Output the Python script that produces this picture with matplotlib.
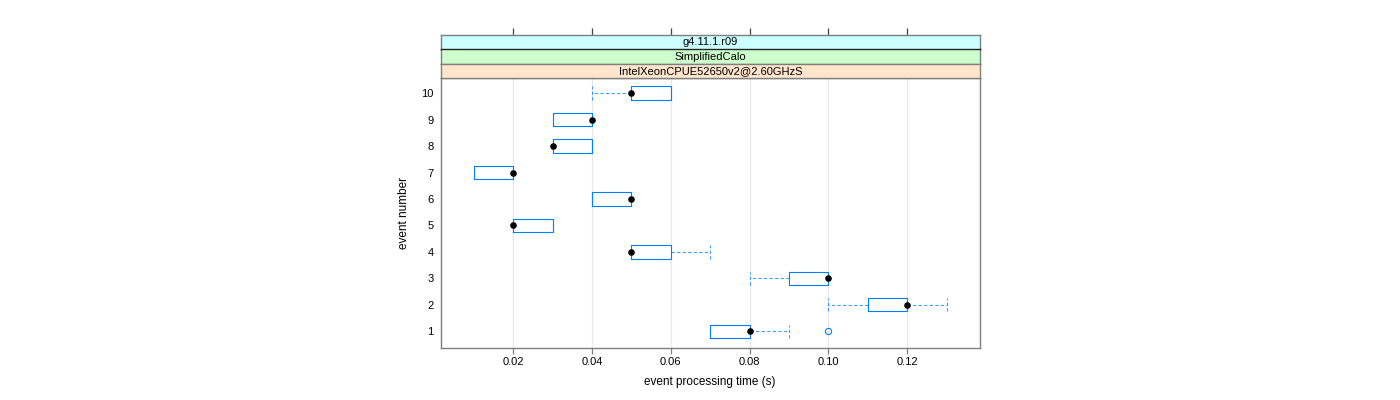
import matplotlib
matplotlib.use("Agg")
import matplotlib.pyplot as plt
import numpy as np

plt.rcParams["font.family"] = ["Liberation Sans", "DejaVu Sans"]

# per-event summary of processing time (s)
events = [1, 2, 3, 4, 5, 6, 7, 8, 9, 10]
whisk_lo = [0.07, 0.10, 0.08, 0.05, 0.02, 0.04, 0.01, 0.03, 0.03, 0.04]
q1 = [0.07, 0.11, 0.09, 0.05, 0.02, 0.04, 0.01, 0.03, 0.03, 0.05]
median = [0.08, 0.12, 0.10, 0.05, 0.02, 0.05, 0.02, 0.03, 0.04, 0.05]
q3 = [0.08, 0.12, 0.10, 0.06, 0.03, 0.05, 0.02, 0.04, 0.04, 0.06]
whisk_hi = [0.09, 0.13, 0.10, 0.07, 0.03, 0.05, 0.02, 0.04, 0.04, 0.06]
outliers = [[0.10], [], [], [], [], [], [], [], [], []]

strip_labels = ["g4.11.1.r09", "SimplifiedCalo", "IntelXeonCPUE52650v2@2.60GHzS"]
strip_colors = ["#ccffff", "#ccffcc", "#ffe5cc"]
xticks = [0.02, 0.04, 0.06, 0.08, 0.10, 0.12]

BLUE = "#0080ff"
FRAME = "#7f7f7f"
W, H = 1400, 400

fig = plt.figure(figsize=(14, 4), dpi=100)

left, right = 440.5 / W, 980 / W
p_top, p_bot = 78 / H, 347.5 / H
ax = fig.add_axes([left, 1 - p_bot, right - left, p_bot - p_top])

stats = []
for i in range(len(events)):
    stats.append({
        "whislo": whisk_lo[i], "q1": q1[i], "med": median[i], "q3": q3[i],
        "whishi": whisk_hi[i], "fliers": outliers[i],
    })

for t in xticks:
    ax.axvline(t, color="#e8e8e8", lw=0.9, zorder=0)

ax.bxp(
    stats, positions=events, orientation="horizontal", widths=0.5, capwidths=0.5,
    showfliers=True, patch_artist=False,
    boxprops=dict(color=BLUE, lw=0.8),
    whiskerprops=dict(color=BLUE, lw=0.8, ls=(0, (3, 2)), alpha=0.75),
    capprops=dict(color=BLUE, lw=0.8, ls=(0, (3, 2)), alpha=0.75),
    medianprops=dict(lw=0),
    flierprops=dict(marker="o", markerfacecolor="none", markeredgecolor=BLUE,
                    markersize=4.5, markeredgewidth=0.8),
)
ax.scatter(median, events, s=14, color="black", zorder=5)

ax.set_xlim(0.0015, 0.1385)
ax.set_ylim(0.39, 10.57)
ax.set_xticks(xticks)
ax.set_xticklabels([f"{t:.2f}" for t in xticks], fontsize=8)
ax.set_yticks(events)
ax.set_yticklabels([str(e) for e in events], fontsize=8)
ax.tick_params(axis="y", length=0, pad=5)
ax.tick_params(axis="x", length=4, width=0.9, color=FRAME, pad=3)
for s in ax.spines.values():
    s.set_color(FRAME)
    s.set_linewidth(1.0)
ax.set_xlabel("event processing time (s)", fontsize=8.5, labelpad=6)
ax.set_ylabel("event number", fontsize=8.5, labelpad=8)

# strips
edges = [35, 49.5, 63.5, 78]
for k, (lab, col) in enumerate(zip(strip_labels, strip_colors)):
    y0, y1 = edges[k], edges[k + 1]
    sax = fig.add_axes([left, 1 - y1 / H, right - left, (y1 - y0) / H], sharex=ax)
    sax.set_facecolor(col)
    sax.set_yticks([])
    sax.text(0.5, 0.5, lab, transform=sax.transAxes, ha="center", va="center", fontsize=8)
    for s in sax.spines.values():
        s.set_color(FRAME)
        s.set_linewidth(1.0)
    if k == 1:
        sax.spines["top"].set_color("#222222")
    if k == 0:
        sax.xaxis.tick_top()
        sax.tick_params(axis="x", top=True, bottom=False, labeltop=False, labelbottom=False,
                        length=5, width=0.9, color="#444444")
    else:
        sax.tick_params(axis="x", top=False, bottom=False, labeltop=False, labelbottom=False)

fig.savefig("out.png", dpi=100)
